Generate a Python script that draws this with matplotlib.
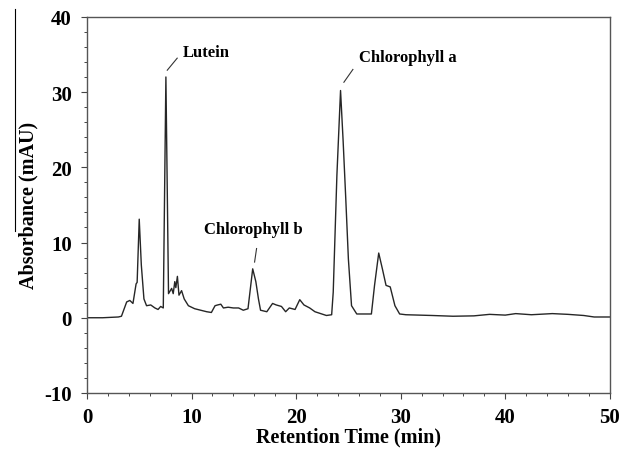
import matplotlib
matplotlib.use("Agg")
import matplotlib.pyplot as plt
from matplotlib.lines import Line2D
from matplotlib.ticker import MultipleLocator

plt.rcParams['font.family'] = ['Liberation Serif', 'DejaVu Serif']
plt.rcParams['font.weight'] = 'bold'
plt.rcParams['axes.unicode_minus'] = False

# Chromatogram trace (retention time in min, absorbance in mAU)
time = [0.0, 1.5, 3.0, 3.3, 3.8, 4.1, 4.4, 4.7, 4.8, 5.0, 5.2, 5.45, 5.7, 6.1, 6.5,
        6.8, 7.05, 7.3, 7.55, 7.8, 8.1, 8.25, 8.4, 8.5, 8.65, 8.8, 9.05, 9.3, 9.7,
        10.3, 11.45, 11.9, 12.25, 12.5, 12.8, 13.05, 13.5, 14.0, 14.5, 14.95, 15.4,
        15.85, 16.15, 16.4, 16.6, 17.2, 17.75, 18.1, 18.6, 19.0, 19.35, 19.9, 20.35,
        20.75, 21.3, 21.8, 22.9, 23.4, 23.55, 23.9, 24.25, 24.5, 24.75, 25.0, 25.3,
        25.8, 27.2, 27.5, 27.9, 28.25, 28.6, 29.0, 29.45, 29.9, 30.5, 33.0, 35.0,
        37.0, 38.5, 40.0, 41.0, 42.5, 44.5, 46.0, 47.5, 48.5, 50.0]
absorbance = [0.0, 0.0, 0.1, 0.2, 2.1, 2.3, 1.9, 4.5, 4.7, 13.1, 7.0, 2.5, 1.6, 1.7, 1.3,
              1.1, 1.5, 1.3, 32.0, 3.2, 3.9, 3.2, 4.8, 4.0, 5.5, 3.0, 3.6, 2.5, 1.6,
              1.2, 0.8, 0.7, 1.6, 1.7, 1.8, 1.3, 1.4, 1.3, 1.3, 1.0, 1.2,
              6.5, 4.8, 2.5, 1.0, 0.8, 1.9, 1.7, 1.5, 0.8, 1.3, 1.1, 2.4,
              1.7, 1.3, 0.8, 0.3, 0.4, 3.4, 18.9, 30.2, 23.4, 15.8, 7.8, 1.6,
              0.5, 0.5, 4.3, 8.6, 6.5, 4.3, 4.1, 1.6, 0.5, 0.4, 0.3, 0.2,
              0.25, 0.45, 0.35, 0.55, 0.4, 0.55, 0.45, 0.3, 0.1, 0.1]

peak_labels = ["Lutein", "Chlorophyll b", "Chlorophyll a"]
label_pos = [(9.15, 35.3), (15.9, 11.8), (26.0, 34.7)]
label_ha = ["left", "center", "left"]
leader_start = [(7.68, 32.9), (16.03, 7.4), (24.57, 31.3)]
leader_end = [(8.63, 34.5), (16.22, 9.2), (25.43, 33.0)]

x_ticks = [0, 10, 20, 30, 40, 50]
y_ticks = [-10, 0, 10, 20, 30, 40]

fig = plt.figure(figsize=(6.3, 4.56), dpi=100)
ax = fig.add_axes([0.138, 0.136, 0.830, 0.825])

ax.plot(time, absorbance, color='#262626', lw=1.0)

for lab, pos, ha, s, e in zip(peak_labels, label_pos, label_ha, leader_start, leader_end):
    ax.text(pos[0], pos[1], lab, ha=ha, va='center', fontsize=12, fontweight='bold')
    ax.plot([s[0], e[0]], [s[1], e[1]], color='#333333', lw=0.8)

ax.set_xlim(0, 50)
ax.set_ylim(-10, 40)
ax.set_xticks(x_ticks)
ax.set_yticks(y_ticks)
ax.xaxis.set_minor_locator(MultipleLocator(2))
ax.yaxis.set_minor_locator(MultipleLocator(2))
ax.tick_params(which='major', direction='out', length=4, width=0.8, colors='#444444',
               labelsize=15, labelcolor='black')
ax.tick_params(axis='y', which='major', pad=7)
ax.tick_params(axis='x', which='major', pad=6)
ax.tick_params(which='minor', direction='out', length=2.5, width=0.7, colors='#444444')
for lbl in ax.get_xticklabels() + ax.get_yticklabels():
    lbl.set_fontweight('bold')
for sp in ax.spines.values():
    sp.set_color('#555555')
    sp.set_linewidth(1.0)

ax.set_xlabel('Retention Time (min)', fontsize=14.5, fontweight='bold', labelpad=0)
ax.set_ylabel('Absorbance (mAU)', fontsize=14.5, fontweight='bold', labelpad=4)

fig.add_artist(Line2D([15 / 630, 15 / 630], [1 - 10 / 456, 1 - 232 / 456],
                      transform=fig.transFigure, color='black', lw=0.8))

fig.savefig('out.png', dpi=100)
